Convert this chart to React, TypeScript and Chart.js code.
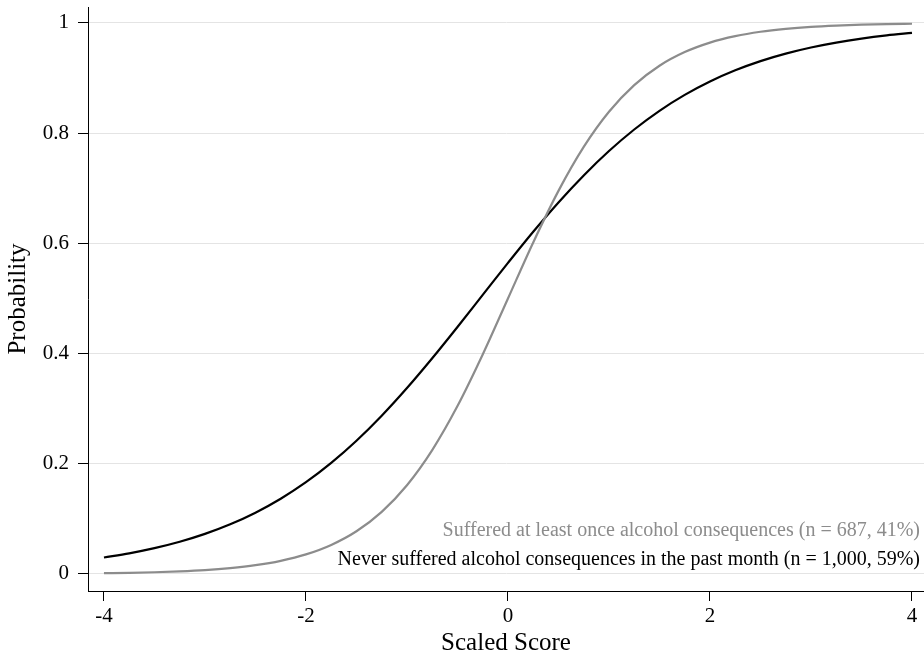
import React, { useEffect, useRef } from "react";
import { Chart, registerables } from "chart.js";

Chart.register(...registerables);

const scaledScores = [
  -4, -3.75, -3.5, -3.25, -3, -2.75, -2.5, -2.25, -2, -1.75, -1.5, -1.25, -1, -0.75, -0.5, -0.25,
  0, 0.25, 0.5, 0.75, 1, 1.25, 1.5, 1.75, 2, 2.25, 2.5, 2.75, 3, 3.25, 3.5, 3.75, 4,
];

const sufferedProb = [
  0.0014, 0.0021, 0.0031, 0.0047, 0.007, 0.0106, 0.0159, 0.0239, 0.0356, 0.0528, 0.0776, 0.1128,
  0.1611, 0.2249, 0.3047, 0.3983, 0.5, 0.6017, 0.6953, 0.7751, 0.8389, 0.8872, 0.9224, 0.9472,
  0.9644, 0.9761, 0.9841, 0.9894, 0.993, 0.9953, 0.9969, 0.998, 0.9986,
];

const neverProb = [
  0.0299, 0.0375, 0.0469, 0.0585, 0.0728, 0.0902, 0.1113, 0.1366, 0.1666, 0.2016, 0.2418, 0.2872,
  0.3374, 0.3915, 0.4483, 0.5065, 0.5646, 0.6211, 0.6743, 0.7233, 0.7676, 0.8067, 0.8406, 0.8695,
  0.8938, 0.9141, 0.9308, 0.9444, 0.9555, 0.9644, 0.9716, 0.9774, 0.982,
];

const xTicks = [-4, -2, 0, 2, 4];
const yTicks = [0, 0.2, 0.4, 0.6, 0.8, 1];

const seriesLabels = [
  "Suffered at least once alcohol consequences (n = 687, 41%)",
  "Never suffered alcohol consequences in the past month (n = 1,000, 59%)",
];
const seriesColors = ["#8c8c8c", "#000000"];

const FONT = "'Liberation Serif', 'Times New Roman', serif";

const legendPlugin = {
  id: "cornerLegend",
  afterDraw(chart: any) {
    const { ctx, chartArea } = chart;
    ctx.save();
    ctx.font = `20px ${FONT}`;
    ctx.textAlign = "right";
    ctx.textBaseline = "middle";
    const x = chartArea.right - 4;
    const ys = [chartArea.bottom - 60, chartArea.bottom - 31];
    seriesLabels.forEach((t, i) => {
      ctx.fillStyle = seriesColors[i];
      ctx.fillText(t, x, ys[i]);
    });
    ctx.restore();
  },
};

export default function App() {
  const ref = useRef<HTMLCanvasElement>(null);

  useEffect(() => {
    document.body.style.margin = "0";
    const canvas = ref.current;
    if (!canvas) return;
    const datasets = [sufferedProb, neverProb].map((vals, i) => ({
      label: seriesLabels[i],
      data: scaledScores.map((x, j) => ({ x, y: vals[j] })),
      borderColor: seriesColors[i],
      backgroundColor: seriesColors[i],
      borderWidth: 2.2,
      pointRadius: 0,
      cubicInterpolationMode: "monotone" as const,
      fill: false,
    }));

    const chart = new Chart(canvas, {
      type: "line",
      data: { datasets },
      plugins: [legendPlugin],
      options: {
        animation: false,
        responsive: false,
        layout: { padding: { top: 7, right: 0, left: 0, bottom: 0 } },
        plugins: { legend: { display: false }, tooltip: { enabled: false } },
        scales: {
          x: {
            type: "linear",
            min: -4.158,
            max: 4.119,
            afterBuildTicks: (s: any) => {
              s.ticks = xTicks.map((v) => ({ value: v }));
            },
            afterFit: (s: any) => {
              s.height = 70;
              s.paddingLeft = 0;
              s.paddingRight = 0;
            },
            grid: {
              drawOnChartArea: false,
              drawTicks: true,
              tickLength: 10,
              tickColor: "#000",
            },
            border: { color: "#000", width: 1 },
            ticks: {
              color: "#000",
              padding: 3,
              maxRotation: 0,
              font: { family: FONT, size: 21 },
              callback: (v: any) => String(v),
            },
            title: {
              display: true,
              text: "Scaled Score",
              color: "#000",
              font: { family: FONT, size: 25 },
              padding: { top: 0, bottom: 3 },
            },
          },
          y: {
            type: "linear",
            min: -0.0309,
            max: 1.029,
            afterBuildTicks: (s: any) => {
              s.ticks = yTicks.map((v) => ({ value: v }));
            },
            afterFit: (s: any) => {
              s.width = 88;
              s.paddingTop = 0;
              s.paddingBottom = 0;
            },
            grid: {
              color: "#e4e4e4",
              lineWidth: 1,
              drawTicks: true,
              tickLength: 10,
              tickColor: "#000",
            },
            border: { color: "#000", width: 1 },
            ticks: {
              color: "#000",
              padding: 9,
              font: { family: FONT, size: 21 },
              callback: (v: any) => String(v),
            },
            title: {
              display: true,
              text: "Probability",
              color: "#000",
              font: { family: FONT, size: 25 },
              padding: { top: 3, bottom: 0 },
            },
          },
        },
      },
    });
    return () => chart.destroy();
  }, []);

  return (
    <div style={{ position: "absolute", left: 0, top: 0, width: 924, height: 661 }}>
      <canvas ref={ref} width={924} height={661} />
    </div>
  );
}
